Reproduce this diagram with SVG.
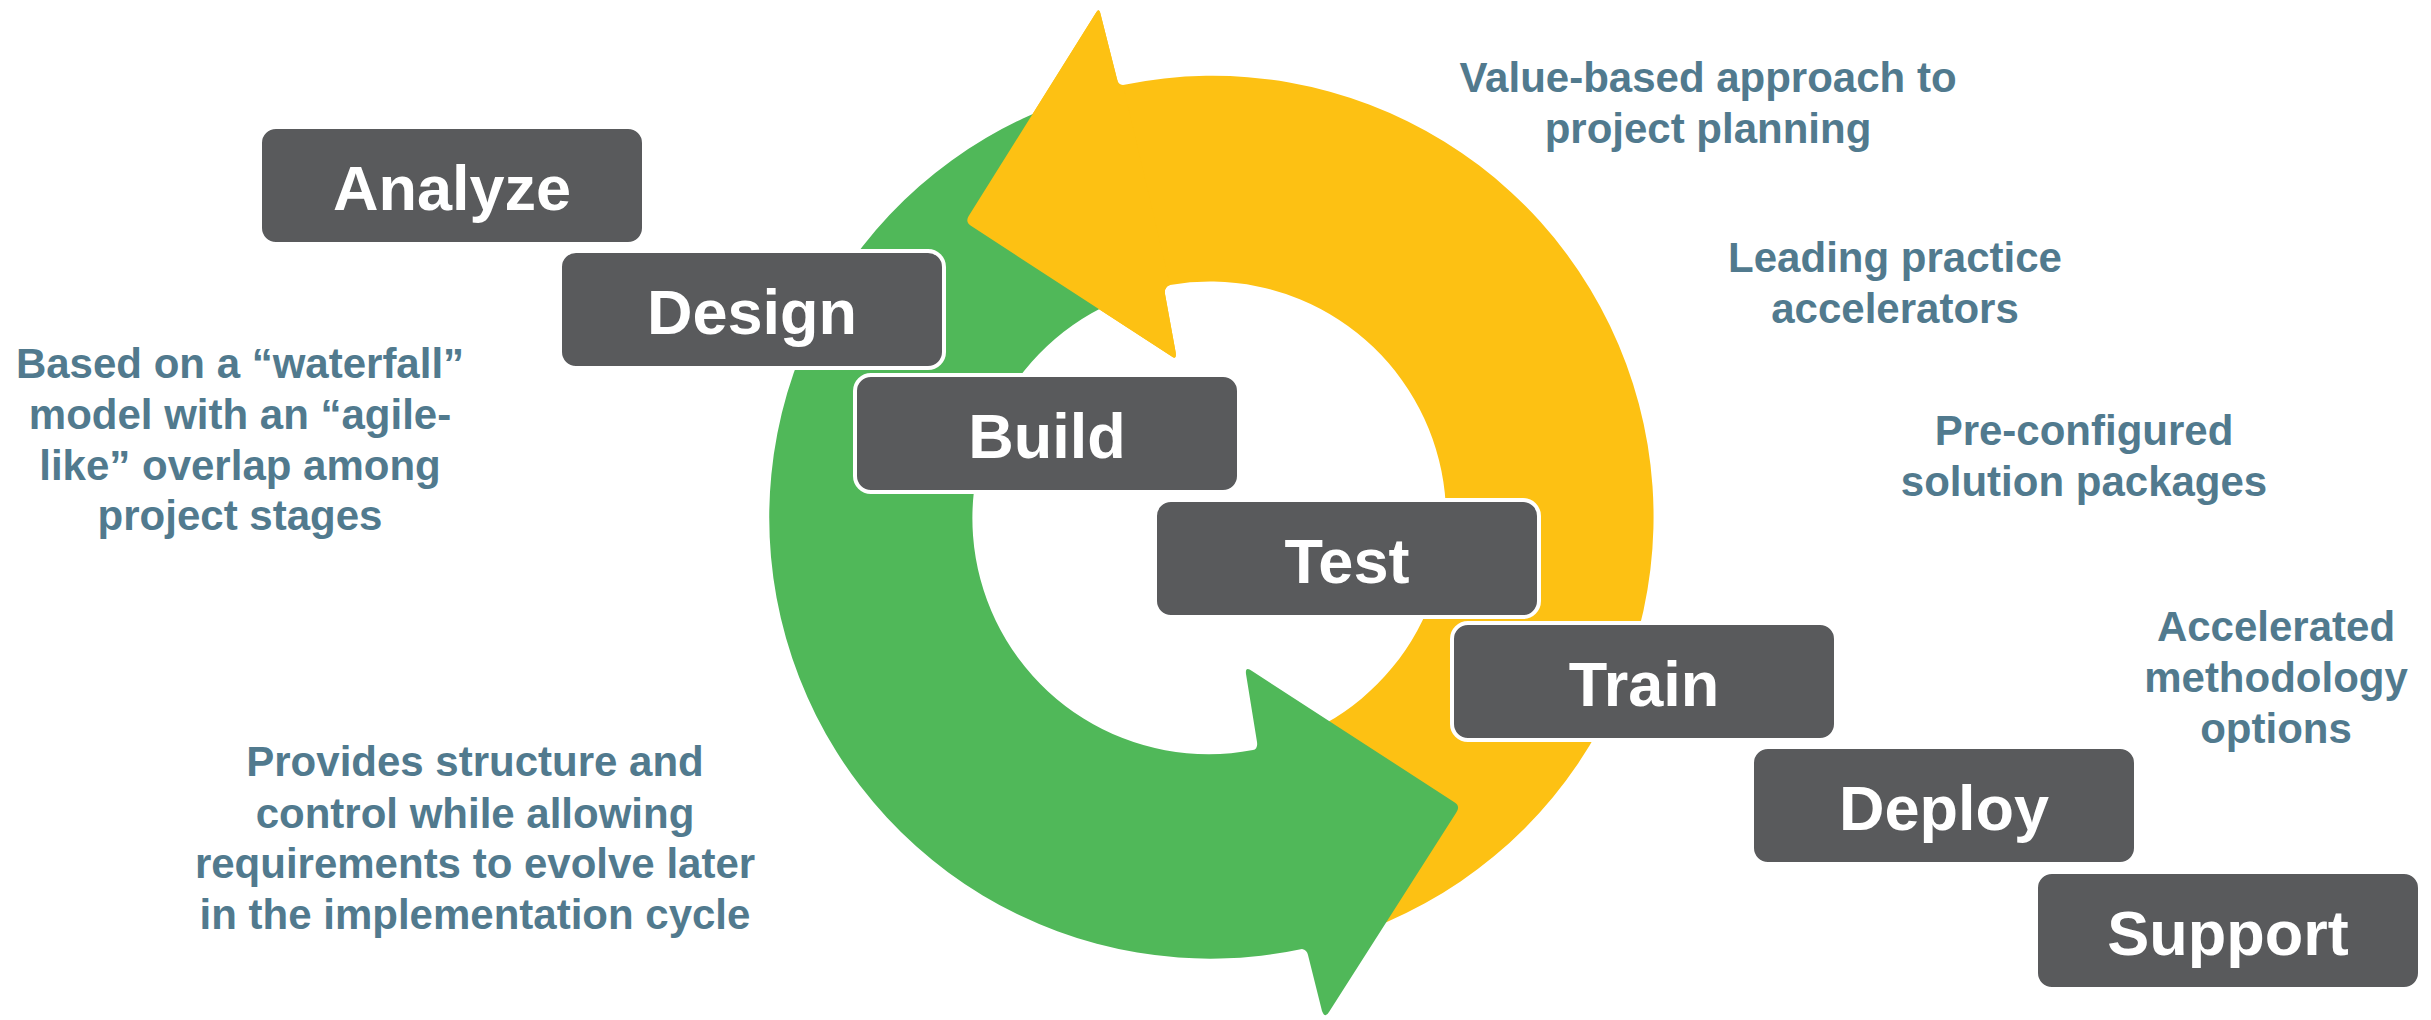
<svg xmlns="http://www.w3.org/2000/svg" width="2431" height="1020" viewBox="0 0 2431 1020">
<style>
.box{fill:#595A5C;stroke:#FFFFFF;stroke-width:4}
.lbl{font-family:"Liberation Sans",Arial,sans-serif;font-weight:bold;font-size:63px;fill:#FFFFFF;text-anchor:middle}
.note{font-family:"Liberation Sans",Arial,sans-serif;font-weight:bold;font-size:42px;fill:#517A8E;text-anchor:middle}
.yellow{fill:#FDC113}
.green{fill:#50B859}
</style>
<rect width="2431" height="1020" fill="#FFFFFF"/>
<g id="connectors">
<path id="arrow-yellow" class="yellow" d="M 1123,85 A 441 441 0 0 1 1348.3,936.4 L 1284.9,741.4 A 236 236 0 0 0 1170,285 Q 1164,287 1165,294 L 1175.6,352 Q 1177,361 1170.3,355.6 L 970.9,225.8 Q 965,222 968.7,216.1 L 1096.3,12.2 Q 1099,8 1100.2,12.8 L 1117,79 Q 1118,85 1123,85 Z"/>
<path id="arrow-green" class="green" d="M 1061.2,102.6 A 441 441 0 0 0 1302,949 Q 1307,950 1308,955 L 1322,1011 Q 1325,1019 1329,1012 L 1456,813 Q 1461,806 1454,802 L 1252,671 Q 1245,666 1246,674 L 1257,742 Q 1258,749 1253,750 A 236 236 0 0 1 1131.3,295.2 Z"/>
<path id="arrow-yellow-head" class="yellow" d="M 1123,85 L 1170,285 Q 1164,287 1165,294 L 1175.6,352 Q 1177,361 1170.3,355.6 L 970.9,225.8 Q 965,222 968.7,216.1 L 1096.3,12.2 Q 1099,8 1100.2,12.8 L 1117,79 Q 1118,85 1123,85 Z"/>
</g>
<g id="node-analyze"><rect class="box" x="260" y="127" width="384" height="117" rx="16"/><text class="lbl" x="452" y="210">Analyze</text></g>
<g id="node-design"><rect class="box" x="560" y="251" width="384" height="117" rx="16"/><text class="lbl" x="752" y="334">Design</text></g>
<g id="node-build"><rect class="box" x="855" y="375" width="384" height="117" rx="16"/><text class="lbl" x="1047" y="458">Build</text></g>
<g id="node-test"><rect class="box" x="1155" y="500" width="384" height="117" rx="16"/><text class="lbl" x="1347" y="583">Test</text></g>
<g id="node-train"><rect class="box" x="1452" y="623" width="384" height="117" rx="16"/><text class="lbl" x="1644" y="706">Train</text></g>
<g id="node-deploy"><rect class="box" x="1752" y="747" width="384" height="117" rx="16"/><text class="lbl" x="1944" y="830">Deploy</text></g>
<g id="node-support"><rect class="box" x="2036" y="872" width="384" height="117" rx="16"/><text class="lbl" x="2228" y="955">Support</text></g>
<g id="note-waterfall"><text class="note" x="240" y="378">Based on a “waterfall”</text><text class="note" x="240" y="429">model with an “agile-</text><text class="note" x="240" y="480">like” overlap among</text><text class="note" x="240" y="530">project stages</text></g>
<g id="note-structure"><text class="note" x="475" y="776">Provides structure and</text><text class="note" x="475" y="828">control while allowing</text><text class="note" x="475" y="878">requirements to evolve later</text><text class="note" x="475" y="929">in the implementation cycle</text></g>
<g id="note-value"><text class="note" x="1708" y="92">Value-based approach to</text><text class="note" x="1708" y="143">project planning</text></g>
<g id="note-leading"><text class="note" x="1895" y="272">Leading practice</text><text class="note" x="1895" y="323">accelerators</text></g>
<g id="note-preconfig"><text class="note" x="2084" y="445">Pre-configured</text><text class="note" x="2084" y="496">solution packages</text></g>
<g id="note-accelerated"><text class="note" x="2276" y="641">Accelerated</text><text class="note" x="2276" y="692">methodology</text><text class="note" x="2276" y="743">options</text></g>
</svg>
